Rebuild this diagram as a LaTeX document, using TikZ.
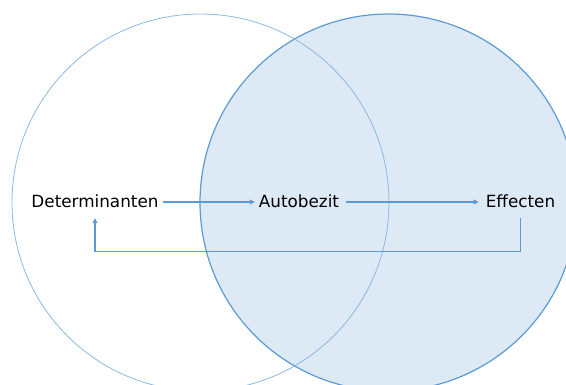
\documentclass[tikz,border=0pt]{standalone}
\usepackage{fontspec}
\setmainfont{DejaVu Sans}
\usetikzlibrary{arrows.meta}
\definecolor{lineblue}{HTML}{5B9BD5}
\definecolor{thinblue}{HTML}{8DB8E2}
\definecolor{fillblue}{HTML}{DEE9F6}
\tikzset{
  lbl/.style={font=\fontsize{16.8pt}{19pt}\selectfont, text height=14pt, text depth=2pt, inner xsep=4pt, inner ysep=8pt},
  arr/.style={draw=lineblue, line width=1.1pt, -{Triangle[length=5pt,width=5pt]}}
}
\begin{document}
\begin{tikzpicture}
\useasboundingbox (0pt,0pt) rectangle (566pt,-385pt);
\clip (0pt,0pt) rectangle (566pt,-385pt);
\fill[fillblue] (388.5pt,-202.5pt) circle (188.5pt);
\draw[lineblue, line width=1.2pt] (388.5pt,-202.5pt) circle (188.5pt);
\draw[thinblue, line width=0.8pt] (200.5pt,-202.5pt) circle (188.5pt);
\node[lbl] (a) at (95pt,-202pt) {Determinanten};
\node[lbl] (b) at (299pt,-202pt) {Autobezit};
\node[lbl] (c) at (520.5pt,-202pt) {Effecten};
\draw[arr] (a.east) -- (b.west);
\draw[arr] ([xshift=3pt]b.east) -- ([xshift=-3pt]c.west);
\draw[arr] (c.south) -- ++(0pt,-33pt) -| (a.south);
\end{tikzpicture}
\end{document}
